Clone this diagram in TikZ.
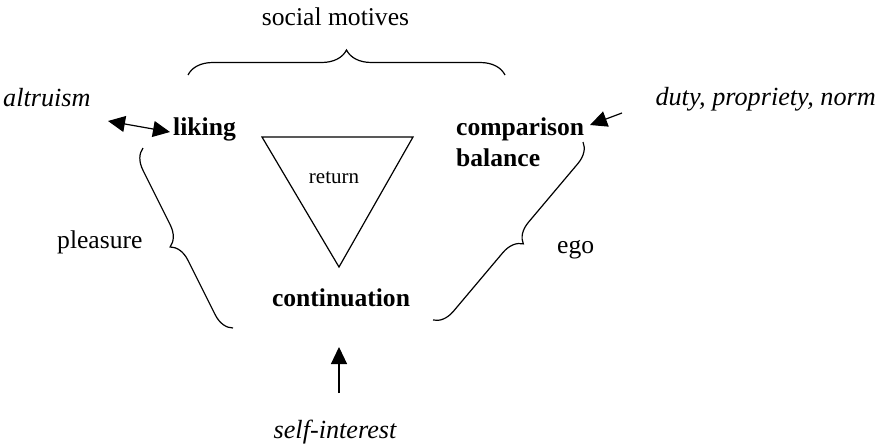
\documentclass[tikz,border=0pt]{standalone}
\usepackage{fontspec}
\setmainfont{Liberation Serif}
\usetikzlibrary{arrows.meta,decorations.pathreplacing}
\begin{document}
\begin{tikzpicture}[x=1pt,y=-1pt,
  lbl/.style={inner sep=0pt,font=\fontsize{25.6}{30}\selectfont},
  key/.style={lbl,font=\fontsize{25.6}{30}\selectfont\bfseries},
  src/.style={lbl,font=\fontsize{26.2}{30}\selectfont\itshape},
  line/.style={line width=1.2pt},
  arr/.style={line,-{Triangle[length=17pt,width=16pt]}},
  darr/.style={line,{Triangle[length=17pt,width=16pt]}-{Triangle[length=17pt,width=16pt]}},
  brc/.style={line,decorate,decoration={brace,amplitude=#1}}
]
\useasboundingbox (0,0) rectangle (877,447);

% labels
\node[lbl,anchor=base] (social) at (335.5,25) {social motives};
\node[src,anchor=base west] (altruism) at (3,106) {altruism};
\node[key,anchor=base west] (liking) at (173,135) {liking};
\node[key,anchor=base west] (comparison) at (456,135) {comparison};
\node[key,anchor=base west] (balance) at (456,166) {balance};
\node[src,anchor=base east] (duty) at (876,105) {duty, propriety, norm};
\node[lbl,anchor=base west] (pleasure) at (57,248) {pleasure};
\node[lbl,anchor=base west] (ego) at (557,253) {ego};
\node[key,anchor=base] (continuation) at (341,306) {continuation};
\node[src,anchor=base] (selfint) at (335,438) {self-interest};

% central triangle
\coordinate (t1) at (262,137);
\coordinate (t2) at (413,137);
\coordinate (t3) at (339,267);
\draw[line,line join=miter] (t1) -- (t2) -- (t3) -- cycle;
\node[inner sep=0pt,font=\fontsize{21}{25}\selectfont,anchor=base] (return) at (334,183) {return};

% braces
\draw[brc=25pt] (188,75) -- (505,75);
\draw[brc=20pt] (233,328) -- (143,148);
\draw[brc=20pt] (583,142) -- (433,320);

% arrows
\coordinate (altr-tip) at (108,121);
\coordinate (lik-tip) at (170,132);
\draw[darr] (altr-tip) -- (lik-tip);
\coordinate (duty-tail) at (622,113);
\coordinate (comp-tip) at (590,125);
\draw[arr] (duty-tail) -- (comp-tip);
\coordinate (self-tail) at (339,393);
\coordinate (cont-tip) at (339,347);
\draw[arr] (self-tail) -- (cont-tip);
\end{tikzpicture}
\end{document}
